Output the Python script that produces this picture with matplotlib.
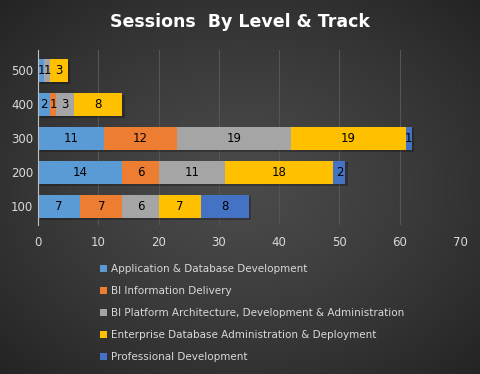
import numpy as np
import matplotlib.pyplot as plt

levels = ['100', '200', '300', '400', '500']
tracks = ['Application & Database Development',
          'BI Information Delivery',
          'BI Platform Architecture, Development & Administration',
          'Enterprise Database Administration & Deployment',
          'Professional Development']
app_db = [7, 14, 11, 2, 1]
bi_info = [7, 6, 12, 1, 0]
bi_platform = [6, 11, 19, 3, 1]
enterprise = [7, 18, 19, 8, 3]
professional = [8, 2, 1, 0, 0]
colors = ['#5B9BD5', '#ED7D31', '#A5A5A5', '#FFC000', '#4472C4']

fig = plt.figure(figsize=(4.8, 3.74), dpi=100)

# radial gradient background, lighter in the middle
bg = fig.add_axes([0, 0, 1, 1])
yy, xx = np.mgrid[-1:1:200j, -1:1:200j]
r = np.clip(np.sqrt(xx**2 + yy**2) / 1.414, 0, 1)
shade = 0.29 - 0.15 * r**1.3
img = np.dstack([shade, shade, shade])
bg.imshow(img, extent=[0, 1, 0, 1], aspect='auto')
bg.axis('off')

ax = fig.add_axes([38/480, 1 - 225/374, 422/480, 175/374])
ax.patch.set_alpha(0)

series = [app_db, bi_info, bi_platform, enterprise, professional]
y = np.arange(len(levels))
left = np.zeros(len(levels))
handles = []
for vals, name, c in zip(series, tracks, colors):
    vals = np.array(vals)
    # soft shadow
    ax.barh(y - 0.05, vals, left=left + 0.35, height=0.68, color='black',
            alpha=0.25, zorder=1)
    b = ax.barh(y, vals, left=left, height=0.68, color=c, label=name, zorder=2)
    handles.append(b)
    for yi, (l, v) in enumerate(zip(left, vals)):
        if v > 0:
            ax.text(l + v / 2, yi, str(v), ha='center', va='center',
                    fontsize=8.5, color='black', zorder=3)
    left += vals

ax.set_xlim(0, 70)
ax.set_ylim(-0.55, 4.6)
ax.set_xticks(range(0, 71, 10))
ax.set_yticks(y)
ax.set_yticklabels(levels)
ax.grid(axis='x', color='#555555', linewidth=0.8, zorder=0)
ax.set_axisbelow(True)
for s in ['top', 'right', 'bottom']:
    ax.spines[s].set_visible(False)
ax.spines['left'].set_color('#bfbfbf')
ax.tick_params(length=0, colors='#d9d9d9', labelsize=8.5)
ax.tick_params(axis='x', pad=8)

fig.text(0.5, 1 - 22/374, 'Sessions  By Level & Track', ha='center',
         va='center', fontsize=12.5, fontweight='bold', color='white')

leg = fig.legend(handles=handles, loc='upper left',
                 bbox_to_anchor=(91/480, 1 - 255/374), frameon=False,
                 fontsize=7.5, labelcolor='#d9d9d9', handlelength=0.6,
                 handleheight=0.6, handletextpad=0.4, labelspacing=1.15)

fig.savefig('out.png', dpi=100)
